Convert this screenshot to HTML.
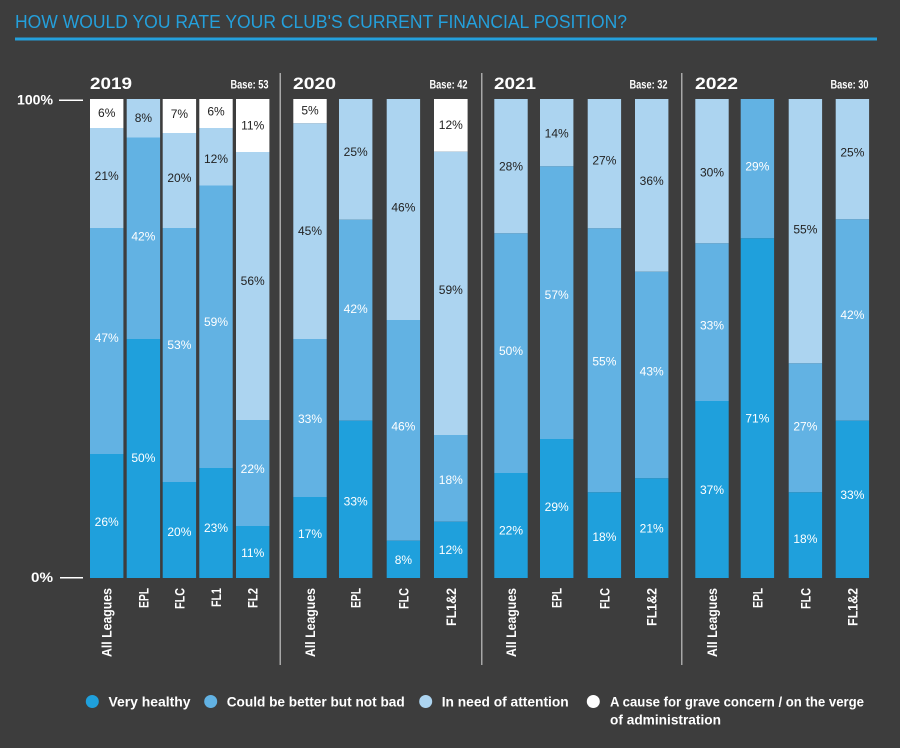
<!DOCTYPE html>
<html><head><meta charset="utf-8"><style>
html,body{margin:0;padding:0;background:#3d3d3d;}
svg{display:block;}
text{font-family:"Liberation Sans",sans-serif;}
.p{font-size:12px;text-anchor:middle;dominant-baseline:central;}
.w{fill:#ffffff;}
.k{fill:#222222;}
.xl{font-size:14px;font-weight:bold;fill:#fff;text-anchor:end;}
.yr{font-size:17px;font-weight:bold;fill:#fff;}
.bs{font-size:12px;font-weight:bold;fill:#fff;text-anchor:end;}
.lg{font-size:14px;font-weight:bold;fill:#fff;}
</style></head><body>
<svg width="900" height="748" viewBox="0 0 900 748" xmlns="http://www.w3.org/2000/svg">
<rect width="900" height="748" fill="#3d3d3d"/>
<text x="15" y="28" font-size="18" fill="#24a0dc" textLength="612" lengthAdjust="spacingAndGlyphs">HOW WOULD YOU RATE YOUR CLUB'S CURRENT FINANCIAL POSITION?</text>
<rect x="15" y="37.5" width="862" height="3" fill="#24a0dc"/>

<!-- axis -->
<text x="53" y="104.5" font-size="14" font-weight="bold" fill="#fff" text-anchor="end" textLength="36" lengthAdjust="spacingAndGlyphs">100%</text>
<rect x="59" y="99.5" width="24" height="1.5" fill="#fff"/>
<text x="53" y="582" font-size="14" font-weight="bold" fill="#fff" text-anchor="end" textLength="22" lengthAdjust="spacingAndGlyphs">0%</text>
<rect x="60" y="577" width="23" height="1.5" fill="#fff"/>

<!-- dividers -->
<rect x="279.5" y="73" width="1.5" height="592" fill="#a8a8a8"/>
<rect x="481" y="73" width="1.5" height="592" fill="#a8a8a8"/>
<rect x="681" y="73" width="1.5" height="592" fill="#a8a8a8"/>

<!-- year headings -->
<text class="yr" x="90" y="89" textLength="42" lengthAdjust="spacingAndGlyphs">2019</text>
<text class="bs" x="268.5" y="88.5" textLength="38" lengthAdjust="spacingAndGlyphs">Base: 53</text>
<text class="yr" x="293" y="89" textLength="43" lengthAdjust="spacingAndGlyphs">2020</text>
<text class="bs" x="467.5" y="88.5" textLength="38" lengthAdjust="spacingAndGlyphs">Base: 42</text>
<text class="yr" x="494" y="89" textLength="42" lengthAdjust="spacingAndGlyphs">2021</text>
<text class="bs" x="667.5" y="88.5" textLength="38" lengthAdjust="spacingAndGlyphs">Base: 32</text>
<text class="yr" x="695" y="89" textLength="43" lengthAdjust="spacingAndGlyphs">2022</text>
<text class="bs" x="868.5" y="88.5" textLength="38" lengthAdjust="spacingAndGlyphs">Base: 30</text>

<g id="bars"></g>
<g id="xlabels"></g>

<!-- legend -->
<circle cx="92.3" cy="701.5" r="6.5" fill="#1fa0dc"/>
<text class="lg" x="108.5" y="706.5" textLength="82" lengthAdjust="spacingAndGlyphs">Very healthy</text>
<circle cx="210.7" cy="701.5" r="6.5" fill="#62b2e3"/>
<text class="lg" x="226.7" y="706.5" textLength="178" lengthAdjust="spacingAndGlyphs">Could be better but not bad</text>
<circle cx="425.7" cy="701.5" r="6.5" fill="#acd4f0"/>
<text class="lg" x="441.7" y="706.5" textLength="127" lengthAdjust="spacingAndGlyphs">In need of attention</text>
<circle cx="593.3" cy="701.5" r="6.5" fill="#ffffff"/>
<text class="lg" x="610" y="706.5" textLength="254" lengthAdjust="spacingAndGlyphs">A cause for grave concern / on the verge</text>
<text class="lg" x="610" y="724.5" textLength="111" lengthAdjust="spacingAndGlyphs">of administration</text>

<!-- 2019 -->
<g>
<rect x="90" y="99" width="33.4" height="29" fill="#ffffff"/>
<rect x="90" y="128" width="33.4" height="100" fill="#acd4f0"/>
<rect x="90" y="228" width="33.4" height="226" fill="#62b2e3"/>
<rect x="90" y="454" width="33.4" height="124" fill="#1fa0dc"/>
<text class="p k" x="106.7" y="113">6%</text>
<text class="p k" x="106.7" y="176">21%</text>
<text class="p w" x="106.7" y="338">47%</text>
<text class="p w" x="106.7" y="522">26%</text>

<rect x="126.7" y="99" width="33.4" height="38.5" fill="#acd4f0"/>
<rect x="126.7" y="137.5" width="33.4" height="201.5" fill="#62b2e3"/>
<rect x="126.7" y="339" width="33.4" height="239" fill="#1fa0dc"/>
<text class="p k" x="143.4" y="118">8%</text>
<text class="p w" x="143.4" y="236.5">42%</text>
<text class="p w" x="143.4" y="458">50%</text>

<rect x="162.7" y="99" width="33.4" height="34" fill="#ffffff"/>
<rect x="162.7" y="133" width="33.4" height="95" fill="#acd4f0"/>
<rect x="162.7" y="228" width="33.4" height="254" fill="#62b2e3"/>
<rect x="162.7" y="482" width="33.4" height="96" fill="#1fa0dc"/>
<text class="p k" x="179.4" y="114">7%</text>
<text class="p k" x="179.4" y="178">20%</text>
<text class="p w" x="179.4" y="345">53%</text>
<text class="p w" x="179.4" y="532">20%</text>

<rect x="199.3" y="99" width="33.4" height="29" fill="#ffffff"/>
<rect x="199.3" y="128" width="33.4" height="57.5" fill="#acd4f0"/>
<rect x="199.3" y="185.5" width="33.4" height="282.5" fill="#62b2e3"/>
<rect x="199.3" y="468" width="33.4" height="110" fill="#1fa0dc"/>
<text class="p k" x="216" y="111.7">6%</text>
<text class="p k" x="216" y="159">12%</text>
<text class="p w" x="216" y="322">59%</text>
<text class="p w" x="216" y="528">23%</text>

<rect x="236" y="99" width="33.4" height="53" fill="#ffffff"/>
<rect x="236" y="152" width="33.4" height="268" fill="#acd4f0"/>
<rect x="236" y="420" width="33.4" height="106" fill="#62b2e3"/>
<rect x="236" y="526" width="33.4" height="52" fill="#1fa0dc"/>
<text class="p k" x="252.7" y="125.5">11%</text>
<text class="p k" x="252.7" y="281">56%</text>
<text class="p w" x="252.7" y="469">22%</text>
<text class="p w" x="252.7" y="553">11%</text>
</g>

<!-- 2020 -->
<g>
<rect x="293.3" y="99" width="33.4" height="24.3" fill="#ffffff"/>
<rect x="293.3" y="123.3" width="33.4" height="215.7" fill="#acd4f0"/>
<rect x="293.3" y="339" width="33.4" height="158" fill="#62b2e3"/>
<rect x="293.3" y="497" width="33.4" height="81" fill="#1fa0dc"/>
<text class="p k" x="310" y="110.7">5%</text>
<text class="p k" x="310" y="231">45%</text>
<text class="p w" x="310" y="419">33%</text>
<text class="p w" x="310" y="534">17%</text>

<rect x="339" y="99" width="33.4" height="120.7" fill="#acd4f0"/>
<rect x="339" y="219.7" width="33.4" height="201" fill="#62b2e3"/>
<rect x="339" y="420.7" width="33.4" height="157.3" fill="#1fa0dc"/>
<text class="p k" x="355.7" y="152">25%</text>
<text class="p w" x="355.7" y="309">42%</text>
<text class="p w" x="355.7" y="501.7">33%</text>

<rect x="386.7" y="99" width="33.4" height="221" fill="#acd4f0"/>
<rect x="386.7" y="320" width="33.4" height="220.7" fill="#62b2e3"/>
<rect x="386.7" y="540.7" width="33.4" height="37.3" fill="#1fa0dc"/>
<text class="p k" x="403.4" y="207.7">46%</text>
<text class="p w" x="403.4" y="426.7">46%</text>
<text class="p w" x="403.4" y="560">8%</text>

<rect x="434" y="99" width="33.6" height="52.7" fill="#ffffff"/>
<rect x="434" y="151.7" width="33.6" height="283.3" fill="#acd4f0"/>
<rect x="434" y="435" width="33.6" height="86.7" fill="#62b2e3"/>
<rect x="434" y="521.7" width="33.6" height="56.3" fill="#1fa0dc"/>
<text class="p k" x="450.8" y="125">12%</text>
<text class="p k" x="450.8" y="290">59%</text>
<text class="p w" x="450.8" y="480">18%</text>
<text class="p w" x="450.8" y="550">12%</text>
</g>

<!-- 2021 -->
<g>
<rect x="494.3" y="99" width="33.4" height="134.3" fill="#acd4f0"/>
<rect x="494.3" y="233.3" width="33.4" height="239.7" fill="#62b2e3"/>
<rect x="494.3" y="473" width="33.4" height="105" fill="#1fa0dc"/>
<text class="p k" x="511" y="166.7">28%</text>
<text class="p w" x="511" y="351">50%</text>
<text class="p w" x="511" y="530.7">22%</text>

<rect x="540" y="99" width="33.4" height="67.3" fill="#acd4f0"/>
<rect x="540" y="166.3" width="33.4" height="272.7" fill="#62b2e3"/>
<rect x="540" y="439" width="33.4" height="139" fill="#1fa0dc"/>
<text class="p k" x="556.7" y="133.3">14%</text>
<text class="p w" x="556.7" y="295">57%</text>
<text class="p w" x="556.7" y="507">29%</text>

<rect x="587.7" y="99" width="33.4" height="129.3" fill="#acd4f0"/>
<rect x="587.7" y="228.3" width="33.4" height="264" fill="#62b2e3"/>
<rect x="587.7" y="492.3" width="33.4" height="85.7" fill="#1fa0dc"/>
<text class="p k" x="604.4" y="160.7">27%</text>
<text class="p w" x="604.4" y="361.7">55%</text>
<text class="p w" x="604.4" y="537">18%</text>

<rect x="635" y="99" width="33.4" height="172.7" fill="#acd4f0"/>
<rect x="635" y="271.7" width="33.4" height="206.6" fill="#62b2e3"/>
<rect x="635" y="478.3" width="33.4" height="99.7" fill="#1fa0dc"/>
<text class="p k" x="651.7" y="181">36%</text>
<text class="p w" x="651.7" y="371.7">43%</text>
<text class="p w" x="651.7" y="528.3">21%</text>
</g>

<!-- 2022 -->
<g>
<rect x="695.3" y="99" width="33.4" height="144.3" fill="#acd4f0"/>
<rect x="695.3" y="243.3" width="33.4" height="157.7" fill="#62b2e3"/>
<rect x="695.3" y="401" width="33.4" height="177" fill="#1fa0dc"/>
<text class="p k" x="712" y="172.3">30%</text>
<text class="p w" x="712" y="325.7">33%</text>
<text class="p w" x="712" y="490">37%</text>

<rect x="740.7" y="99" width="33.4" height="139.3" fill="#62b2e3"/>
<rect x="740.7" y="238.3" width="33.4" height="339.7" fill="#1fa0dc"/>
<text class="p w" x="757.4" y="166.7">29%</text>
<text class="p w" x="757.4" y="418.3">71%</text>

<rect x="788.7" y="99" width="33.4" height="264.3" fill="#acd4f0"/>
<rect x="788.7" y="363.3" width="33.4" height="129" fill="#62b2e3"/>
<rect x="788.7" y="492.3" width="33.4" height="85.7" fill="#1fa0dc"/>
<text class="p k" x="805.4" y="229.3">55%</text>
<text class="p w" x="805.4" y="426.7">27%</text>
<text class="p w" x="805.4" y="539">18%</text>

<rect x="835.7" y="99" width="33.4" height="120.3" fill="#acd4f0"/>
<rect x="835.7" y="219.3" width="33.4" height="201.4" fill="#62b2e3"/>
<rect x="835.7" y="420.7" width="33.4" height="157.3" fill="#1fa0dc"/>
<text class="p k" x="852.4" y="152.3">25%</text>
<text class="p w" x="852.4" y="315">42%</text>
<text class="p w" x="852.4" y="495">33%</text>
</g>

<!-- x labels (rotated) -->
<text class="xl" transform="translate(111.7,588) rotate(-90)" textLength="69" lengthAdjust="spacingAndGlyphs">All Leagues</text>
<text class="xl" transform="translate(148.4,588) rotate(-90)" textLength="20" lengthAdjust="spacingAndGlyphs">EPL</text>
<text class="xl" transform="translate(184.4,588) rotate(-90)" textLength="21" lengthAdjust="spacingAndGlyphs">FLC</text>
<text class="xl" transform="translate(221,588) rotate(-90)" textLength="19" lengthAdjust="spacingAndGlyphs">FL1</text>
<text class="xl" transform="translate(257.7,588) rotate(-90)" textLength="20" lengthAdjust="spacingAndGlyphs">FL2</text>

<text class="xl" transform="translate(315,588) rotate(-90)" textLength="69" lengthAdjust="spacingAndGlyphs">All Leagues</text>
<text class="xl" transform="translate(360.7,588) rotate(-90)" textLength="20" lengthAdjust="spacingAndGlyphs">EPL</text>
<text class="xl" transform="translate(408.4,588) rotate(-90)" textLength="21" lengthAdjust="spacingAndGlyphs">FLC</text>
<text class="xl" transform="translate(455.8,588) rotate(-90)" textLength="38" lengthAdjust="spacingAndGlyphs">FL1&amp;2</text>

<text class="xl" transform="translate(516,588) rotate(-90)" textLength="69" lengthAdjust="spacingAndGlyphs">All Leagues</text>
<text class="xl" transform="translate(561.7,588) rotate(-90)" textLength="20" lengthAdjust="spacingAndGlyphs">EPL</text>
<text class="xl" transform="translate(609.4,588) rotate(-90)" textLength="21" lengthAdjust="spacingAndGlyphs">FLC</text>
<text class="xl" transform="translate(656.7,588) rotate(-90)" textLength="38" lengthAdjust="spacingAndGlyphs">FL1&amp;2</text>

<text class="xl" transform="translate(717,588) rotate(-90)" textLength="69" lengthAdjust="spacingAndGlyphs">All Leagues</text>
<text class="xl" transform="translate(762.4,588) rotate(-90)" textLength="20" lengthAdjust="spacingAndGlyphs">EPL</text>
<text class="xl" transform="translate(810.4,588) rotate(-90)" textLength="21" lengthAdjust="spacingAndGlyphs">FLC</text>
<text class="xl" transform="translate(857.4,588) rotate(-90)" textLength="38" lengthAdjust="spacingAndGlyphs">FL1&amp;2</text>
</svg>
</body></html>
